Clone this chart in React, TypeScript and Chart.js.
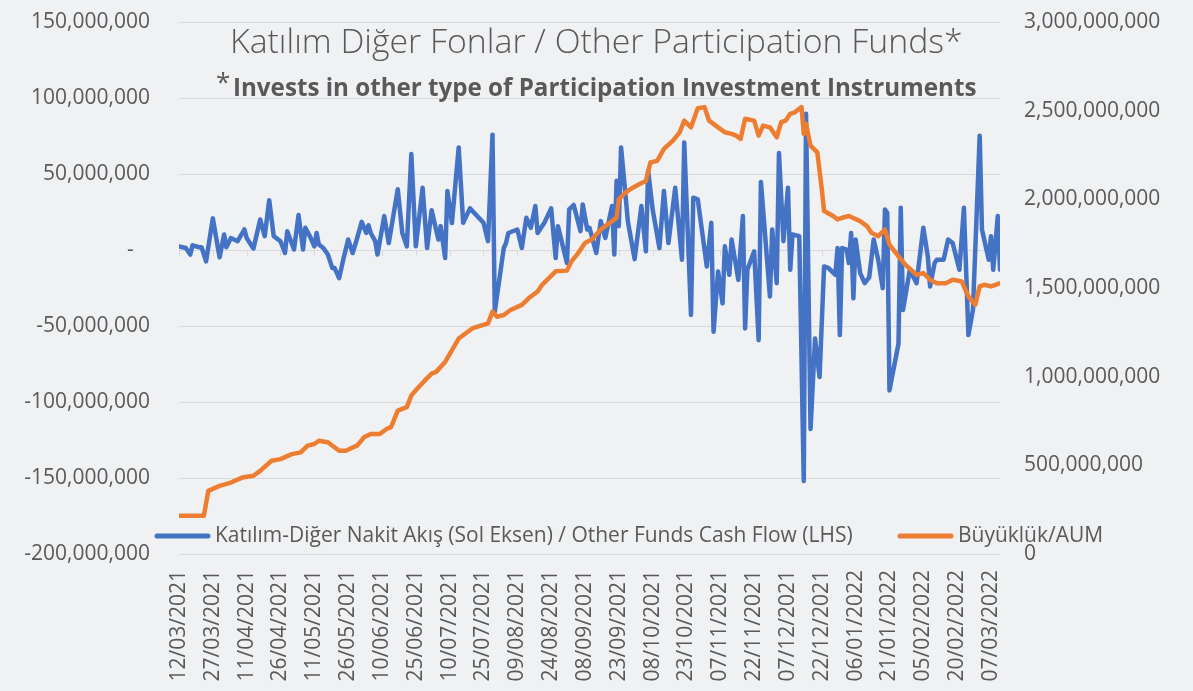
import React, { useEffect, useRef } from 'react';
import { Chart, registerables } from 'chart.js';

Chart.register(...registerables);

// ---- DATA ----
// x positions: days after 12/03/2021
const xTickLabels = [
  '12/03/2021', '27/03/2021', '11/04/2021', '26/04/2021', '11/05/2021', '26/05/2021',
  '10/06/2021', '25/06/2021', '10/07/2021', '25/07/2021', '09/08/2021', '24/08/2021',
  '08/09/2021', '23/09/2021', '08/10/2021', '23/10/2021', '07/11/2021', '22/11/2021',
  '07/12/2021', '22/12/2021', '06/01/2022', '21/01/2022', '05/02/2022', '20/02/2022',
  '07/03/2022',
];

const leftTicks = [-200e6, -150e6, -100e6, -50e6, 0, 50e6, 100e6, 150e6];
const rightTicks = [0, 5e8, 1e9, 1.5e9, 2e9, 2.5e9, 3e9];

// Cash flow (millions TRY)
const flowDays = [
  0, 3, 5, 6, 9, 10, 12, 15, 18, 20, 21, 23, 26, 29, 30, 33, 36, 38, 40, 42,
  45, 47, 48, 51, 53, 55, 56, 58, 60, 61, 62, 64, 66, 68, 69, 71, 73, 75, 77, 79,
  81, 83, 84, 85, 87, 88, 91, 93, 97, 99, 101, 103, 105, 108, 110, 112, 115, 116, 118, 119,
  121, 124, 126, 129, 135, 137, 139, 140, 144, 145, 146, 150, 152, 154, 156, 158, 159, 162, 165, 167,
  168, 172, 173, 175, 178, 179, 181, 182, 185, 187, 189, 192, 193, 194, 195, 196, 198, 199, 202, 205,
  207, 208, 210, 213, 215, 217, 220, 223, 224, 227, 228, 230, 234, 236, 237, 239, 241, 242, 244, 245,
  248, 250, 251, 252, 255, 257, 258, 262, 263, 265, 266, 268, 270, 271, 272, 275, 277, 278, 280, 282,
  284, 286, 288, 291, 292, 293, 294, 296, 297, 298, 299, 300, 302, 304, 306, 308, 310, 312, 313, 314,
  315, 319, 320, 321, 324, 327, 330, 332, 333, 335, 336, 339, 341, 343, 346, 348, 350, 352, 355, 356,
  359, 360, 361, 363, 364,
];
const flowValues = [
  2.4, 1.3, -3.0, 3.1, 1.8, 1.8, -7.5, 20.8, -4.8, 10.2, 1.8, 7.9, 5.8, 13.5, 7.9, 0.9, 20.1, 9.1, 32.7, 9.1,
  5.8, -2.0, 12.4, 0.3, 23.0, 0.3, 14.6, 9.1, 2.4, 11.2, 3.6, 1.3, -3.0, -11.9, -11.9, -18.5, -5.3, 6.9, -2.0, 7.9,
  18.5, 11.2, 16.3, 11.2, 5.8, -3.0, 22.3, 4.6, 40.0, 11.2, 2.4, 63.1, 2.4, 41.0, 1.3, 26.1, 6.9, 15.7, -5.3, 38.8,
  17.7, 67.5, 17.9, 27.4, 17.9, 5.8, 75.9, -40.6, 1.3, 4.6, 11.2, 13.5, 1.3, 21.2, 14.6, 28.9, 11.2, 17.9, 27.4, -5.3,
  15.7, -8.6, 26.7, 29.6, 12.4, 30.0, 13.5, 14.6, -2.0, 19.0, 7.9, 28.9, -3.0, 45.5, 15.7, 67.5, 35.5, 19.0, -6.0, 28.9,
  -0.9, 52.1, 26.7, 1.3, 38.8, 4.6, 41.0, -6.4, 70.8, -42.7, 34.4, 33.3, -10.8, 17.9, -53.8, -14.1, -35.1, 2.4, -16.3, 6.9,
  -19.6, 22.3, -51.6, -13.0, -0.9, -59.3, 44.8, -30.6, 13.5, -21.8, 63.8, 5.8, 41.0, -13.0, 10.2, 9.1, -151.9, 89.6, -117.8, -58.2,
  -83.6, -10.8, -11.9, -16.3, 1.3, -56.0, 1.3, 0.3, -8.6, 11.2, -31.8, 6.9, -15.2, -21.8, -18.0, 6.9, -6.4, -25.1, 26.7, 24.5,
  -92.4, -61.5, 27.8, -39.4, -13.0, -21.8, 14.6, -4.2, -24.0, -8.6, -6.4, -6.4, 6.9, 4.6, -13.0, 27.8, -56.0, -39.4, 75.2, 13.5,
  -6.4, 9.1, -13.0, 22.3, -13.0,
];

// AUM (millions TRY)
const aumDays = [
  0, 11, 13, 18, 23, 28, 33, 36, 41, 45, 50, 54, 57, 60, 62, 66, 71, 74, 77, 79,
  82, 85, 89, 92, 94, 97, 101, 103, 105, 109, 112, 114, 118, 124, 130, 137, 139, 141, 144, 147,
  152, 155, 159, 161, 164, 167, 172, 174, 177, 180, 183, 187, 192, 194, 195, 198, 200, 204, 207, 209,
  212, 215, 219, 222, 224, 227, 230, 233, 235, 239, 242, 245, 247, 249, 251, 255, 257, 259, 262, 265,
  267, 269, 271, 273, 276, 277, 278, 280, 283, 285, 286, 290, 292, 294, 297, 302, 305, 307, 310, 313,
  315, 319, 322, 327, 330, 333, 336, 340, 343, 347, 350, 353, 355, 357, 360, 362, 364,
];
const aumValues = [
  215, 215, 356, 384, 403, 431, 441, 469, 526, 535, 563, 573, 611, 620, 639, 630, 582, 582, 601, 611,
  658, 677, 677, 705, 715, 809, 828, 894, 923, 979, 1017, 1027, 1083, 1215, 1272, 1300, 1367, 1338, 1348, 1376,
  1405, 1442, 1480, 1518, 1556, 1594, 1598, 1650, 1697, 1754, 1773, 1830, 1877, 1896, 2000, 2038, 2057, 2085, 2104, 2208,
  2217, 2284, 2331, 2378, 2444, 2406, 2514, 2520, 2444, 2406, 2378, 2369, 2359, 2341, 2454, 2444, 2359, 2416, 2406, 2350,
  2435, 2444, 2482, 2491, 2520, 2369, 2426, 2303, 2265, 2057, 1934, 1906, 1887, 1896, 1906, 1877, 1849, 1811, 1792, 1830,
  1745, 1679, 1632, 1575, 1584, 1547, 1527, 1527, 1547, 1537, 1452, 1405, 1509, 1518, 1509, 1518, 1527,
];

const titleText = 'Katılım Diğer Fonlar / Other Participation Funds*';
const subtitleStar = '*';
const subtitleText = 'Invests in other type of Participation Investment Instruments';
const flowLabel = 'Katılım-Diğer Nakit Akış (Sol Eksen) / Other Funds Cash Flow (LHS)';
const aumLabel = 'Büyüklük/AUM';

// ---- STYLE ----
const FONT = '"Open Sans", sans-serif';
const BG = '#f0f1f3';
const TEXT = '#595959';
const BLUE = '#4472C4';
const ORANGE = '#ED7D31';
const GRID = '#d9d9d9';

function fitSize(ctx: CanvasRenderingContext2D, text: string, weight: string, target: number) {
  ctx.font = `${weight} 20px ${FONT}`;
  const w = ctx.measureText(text).width;
  return (20 * target) / w;
}

const overlayPlugin = {
  id: 'overlay',
  beforeDraw(chart: any) {
    const { ctx, width, height } = chart;
    ctx.save();
    ctx.fillStyle = BG;
    ctx.fillRect(0, 0, width, height);
    ctx.restore();
  },
  beforeDatasetsDraw(chart: any) {
    const { ctx } = chart;
    const xs = chart.scales.x;
    const ys = chart.scales.y;
    const y0 = ys.getPixelForValue(0);
    ctx.save();
    ctx.strokeStyle = GRID;
    ctx.lineWidth = 1;
    ctx.beginPath();
    xTickLabels.forEach((_, i) => {
      const px = Math.round(xs.getPixelForValue(i * 15)) + 0.5;
      ctx.moveTo(px, y0);
      ctx.lineTo(px, y0 + 6);
    });
    ctx.stroke();
    ctx.restore();
  },
  afterDraw(chart: any) {
    const { ctx } = chart;
    ctx.save();
    ctx.fillStyle = TEXT;
    ctx.textBaseline = 'middle';
    // title
    const ts = fitSize(ctx, titleText, '300', 733);
    ctx.font = `300 ${ts}px ${FONT}`;
    ctx.textAlign = 'left';
    ctx.fillText(titleText, 230, 43);
    // subtitle
    const ss = fitSize(ctx, subtitleText, 'bold', 744);
    ctx.font = `bold ${ss}px ${FONT}`;
    ctx.fillText(subtitleText, 233, 89);
    ctx.font = `normal 26px ${FONT}`;
    ctx.fillText(subtitleStar, 216, 84);
    // legend
    ctx.lineCap = 'round';
    ctx.lineWidth = 5;
    ctx.strokeStyle = BLUE;
    ctx.beginPath();
    ctx.moveTo(157, 536);
    ctx.lineTo(208, 536);
    ctx.stroke();
    ctx.strokeStyle = ORANGE;
    ctx.beginPath();
    ctx.moveTo(900, 536);
    ctx.lineTo(951, 536);
    ctx.stroke();
    const ls = fitSize(ctx, flowLabel, 'normal', 638);
    ctx.font = `normal ${ls}px ${FONT}`;
    ctx.fillText(flowLabel, 215, 536);
    ctx.fillText(aumLabel, 958, 536);
    ctx.restore();
  },
};

export default function App() {
  const ref = useRef<HTMLCanvasElement | null>(null);

  useEffect(() => {
    if (!ref.current) return;
    const tickFont = { family: FONT, size: 21 };
    const chart = new Chart(ref.current, {
      type: 'line',
      data: {
        datasets: [
          {
            label: flowLabel,
            data: flowDays.map((d, i) => ({ x: d, y: flowValues[i] * 1e6 })),
            borderColor: BLUE,
            backgroundColor: BLUE,
            borderWidth: 4.5,
            pointRadius: 0,
            tension: 0,
            borderJoinStyle: 'round',
            borderCapStyle: 'round',
            yAxisID: 'y',
            order: 2,
          },
          {
            label: aumLabel,
            data: aumDays.map((d, i) => ({ x: d, y: aumValues[i] * 1e6 })),
            borderColor: ORANGE,
            backgroundColor: ORANGE,
            borderWidth: 4.5,
            pointRadius: 0,
            tension: 0,
            borderJoinStyle: 'round',
            borderCapStyle: 'round',
            yAxisID: 'y1',
            order: 1,
          },
        ],
      },
      options: {
        animation: false,
        responsive: false,
        maintainAspectRatio: false,
        layout: { padding: { top: 22, left: 0, right: 0, bottom: 0 } },
        plugins: {
          legend: { display: false },
          tooltip: { enabled: false },
          title: { display: false },
        },
        scales: {
          x: {
            type: 'linear',
            min: 0,
            max: 364,
            position: 'bottom',
            grid: { display: false, drawTicks: true, tickLength: 16, tickColor: 'rgba(0,0,0,0)' },
            border: { display: false },
            ticks: {
              stepSize: 15,
              autoSkip: false,
              maxRotation: 90,
              minRotation: 90,
              padding: 0,
              color: TEXT,
              font: tickFont,
              callback: (v: any) => xTickLabels[Math.round(Number(v) / 15)] ?? '',
            },
            afterBuildTicks: (s: any) => {
              s.ticks = xTickLabels.map((_, i) => ({ value: i * 15 }));
            },
            afterFit: (s: any) => {
              s.height = 137;
            },
          },
          y: {
            type: 'linear',
            position: 'left',
            min: -200e6,
            max: 150e6,
            grid: { color: GRID, lineWidth: 1, drawTicks: true, tickLength: 29, tickColor: 'rgba(0,0,0,0)' },
            border: { display: false },
            ticks: {
              stepSize: 50e6,
              padding: 0,
              color: TEXT,
              font: tickFont,
              callback: (v: any) => (Number(v) === 0 ? '-   ' : Number(v).toLocaleString('en-US')),
            },
            afterBuildTicks: (s: any) => {
              s.ticks = leftTicks.map((v) => ({ value: v }));
            },
            afterFit: (s: any) => {
              s.width = 179;
            },
          },
          y1: {
            type: 'linear',
            position: 'right',
            min: 0,
            max: 3e9,
            grid: { display: false, drawTicks: true, tickLength: 24, tickColor: 'rgba(0,0,0,0)' },
            border: { display: false },
            ticks: {
              stepSize: 5e8,
              padding: 0,
              color: TEXT,
              font: tickFont,
              callback: (v: any) => Number(v).toLocaleString('en-US'),
            },
            afterBuildTicks: (s: any) => {
              s.ticks = rightTicks.map((v) => ({ value: v }));
            },
            afterFit: (s: any) => {
              s.width = 193;
            },
          },
        },
      },
      plugins: [overlayPlugin],
    } as any);
    return () => chart.destroy();
  }, []);

  return (
    <div style={{ position: 'fixed', left: 0, top: 0, width: 1193, height: 691, background: BG }}>
      <canvas ref={ref} width={1193} height={691} style={{ width: 1193, height: 691, display: 'block' }} />
    </div>
  );
}
